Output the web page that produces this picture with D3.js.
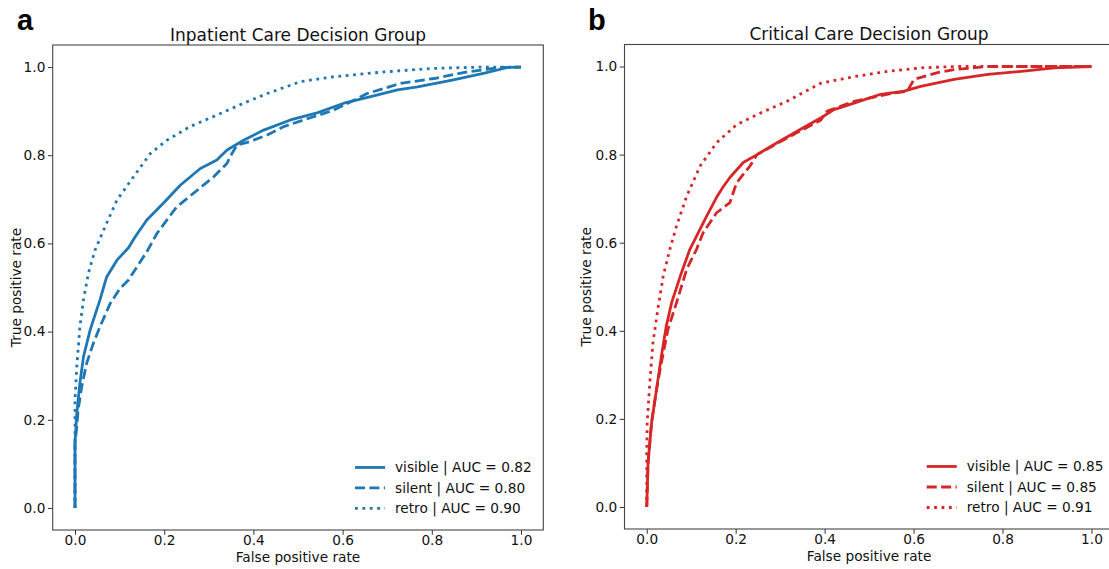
<!DOCTYPE html>
<html>
<head>
<meta charset="utf-8">
<script src="https://cdn.jsdelivr.net/npm/d3@7"></script>
<style>
  html, body { margin: 0; padding: 0; background: #fff; }
  svg { display: block; font-family: "DejaVu Sans", sans-serif; }
</style>
</head>
<body>
<svg id="chart" width="1109" height="569"></svg>
<script>
// ---------------- DATA ----------------
const tickValues = [0.0, 0.2, 0.4, 0.6, 0.8, 1.0];
const seriesNames = ["visible", "silent", "retro"];
const panelTitles = ["Inpatient Care Decision Group", "Critical Care Decision Group"];
const panelLetters = ["a", "b"];
const inpatientAUC = [0.82, 0.80, 0.90];
const criticalAUC = [0.85, 0.85, 0.91];

// Inpatient Care Decision Group
const inpVisibleFpr = [0, 0, 0.004, 0.011, 0.019, 0.034, 0.056, 0.071, 0.094, 0.12, 0.135, 0.161, 0.198, 0.236, 0.281, 0.318, 0.341, 0.378, 0.423, 0.483, 0.543, 0.603, 0.663, 0.723, 0.768, 0.843, 0.918, 0.97, 1.0];
const inpVisibleTpr = [0, 0.147, 0.215, 0.283, 0.343, 0.404, 0.472, 0.524, 0.562, 0.59, 0.615, 0.653, 0.691, 0.732, 0.77, 0.789, 0.812, 0.834, 0.857, 0.88, 0.896, 0.918, 0.933, 0.948, 0.955, 0.97, 0.986, 0.999, 1.0];
const inpSilentFpr = [0, 0, 0.004, 0.007, 0.015, 0.026, 0.041, 0.056, 0.079, 0.101, 0.12, 0.139, 0.161, 0.184, 0.228, 0.266, 0.311, 0.341, 0.352, 0.363, 0.393, 0.431, 0.468, 0.513, 0.58, 0.655, 0.73, 0.805, 0.88, 0.955, 1.0];
const inpSilentTpr = [0, 0.147, 0.184, 0.222, 0.275, 0.328, 0.373, 0.411, 0.464, 0.498, 0.517, 0.547, 0.581, 0.623, 0.683, 0.714, 0.751, 0.782, 0.804, 0.823, 0.831, 0.846, 0.865, 0.88, 0.902, 0.94, 0.963, 0.974, 0.989, 0.999, 1.0];
const inpRetroFpr = [0, 0, 0.004, 0.011, 0.019, 0.03, 0.045, 0.064, 0.094, 0.131, 0.169, 0.206, 0.258, 0.318, 0.378, 0.431, 0.506, 0.58, 0.693, 0.805, 0.918, 1.0];
const inpRetroTpr = [0, 0.245, 0.32, 0.411, 0.472, 0.532, 0.585, 0.63, 0.698, 0.751, 0.804, 0.834, 0.865, 0.891, 0.918, 0.94, 0.967, 0.978, 0.989, 0.997, 1.0, 1.0];

// Critical Care Decision Group
const crtVisibleFpr = [0, 0.003, 0.011, 0.022, 0.033, 0.044, 0.056, 0.078, 0.097, 0.112, 0.135, 0.157, 0.172, 0.187, 0.217, 0.248, 0.293, 0.338, 0.391, 0.421, 0.466, 0.526, 0.579, 0.616, 0.691, 0.767, 0.842, 0.917, 1.0];
const crtVisibleTpr = [0, 0.101, 0.192, 0.267, 0.343, 0.411, 0.464, 0.532, 0.585, 0.615, 0.661, 0.703, 0.727, 0.748, 0.782, 0.8, 0.827, 0.853, 0.883, 0.902, 0.917, 0.937, 0.944, 0.955, 0.971, 0.982, 0.989, 0.997, 1.0];
const crtSilentFpr = [0, 0.003, 0.011, 0.022, 0.033, 0.048, 0.067, 0.09, 0.112, 0.127, 0.157, 0.187, 0.202, 0.232, 0.248, 0.293, 0.338, 0.391, 0.406, 0.466, 0.556, 0.586, 0.601, 0.654, 0.691, 0.767, 1.0];
const crtSilentTpr = [0, 0.101, 0.192, 0.267, 0.328, 0.404, 0.464, 0.54, 0.585, 0.623, 0.668, 0.691, 0.736, 0.774, 0.8, 0.825, 0.85, 0.878, 0.899, 0.921, 0.94, 0.944, 0.971, 0.986, 0.993, 1.0, 1.0];
const crtRetroFpr = [0, 0, 0.001, 0.007, 0.014, 0.026, 0.037, 0.052, 0.067, 0.09, 0.12, 0.157, 0.202, 0.255, 0.315, 0.391, 0.466, 0.541, 0.616, 0.691, 1.0];
const crtRetroTpr = [0, 0.116, 0.192, 0.283, 0.373, 0.456, 0.524, 0.585, 0.638, 0.706, 0.774, 0.827, 0.868, 0.894, 0.921, 0.962, 0.977, 0.989, 0.997, 1.0, 1.0];

// ---------------- LAYOUT / STYLE ----------------
const lw = 2.8;
const dashes = [null, "10,4.4", "2.8,4.6"];
const panels = [
  { x0: 52.7, x1: 543.3, y0: 45, y1: 530, color: "#1f77b4", auc: inpatientAUC,
    fpr: [inpVisibleFpr, inpSilentFpr, inpRetroFpr], tpr: [inpVisibleTpr, inpSilentTpr, inpRetroTpr],
    letterX: 17, ylabX: 21 },
  { x0: 624.5, x1: 1113.7, y0: 44.5, y1: 529, color: "#d62728", auc: criticalAUC,
    fpr: [crtVisibleFpr, crtSilentFpr, crtRetroFpr], tpr: [crtVisibleTpr, crtSilentTpr, crtRetroTpr],
    letterX: 588, ylabX: 591 }
];

const svg = d3.select("#chart");
const fmt = d3.format(".1f");

panels.forEach((p, pi) => {
  const x = d3.scaleLinear().domain([-0.05, 1.05]).range([p.x0, p.x1]);
  const y = d3.scaleLinear().domain([-0.05, 1.05]).range([p.y1, p.y0]);
  const g = svg.append("g");

  const clipId = "clip" + pi;
  svg.append("clipPath").attr("id", clipId).append("rect")
    .attr("x", p.x0).attr("y", p.y0).attr("width", p.x1 - p.x0).attr("height", p.y1 - p.y0);

  // curves
  const line = d3.line().x(d => x(d[0])).y(d => y(d[1]));
  seriesNames.forEach((s, si) => {
    const pts = p.fpr[si].map((f, i) => [f, p.tpr[si][i]]);
    const path = g.append("path").datum(pts)
      .attr("d", line)
      .attr("fill", "none")
      .attr("stroke", p.color)
      .attr("stroke-width", lw)
      .attr("stroke-linejoin", "round")
      .attr("stroke-linecap", "butt")
      .attr("clip-path", `url(#${clipId})`);
    if (dashes[si]) path.attr("stroke-dasharray", dashes[si]);
  });

  // axes
  const xAxis = d3.axisBottom(x).tickValues(tickValues).tickFormat(fmt).tickSize(4.8).tickPadding(0.8);
  const yAxis = d3.axisLeft(y).tickValues(tickValues).tickFormat(fmt).tickSize(4.8).tickPadding(2.5);
  const gx = g.append("g").attr("transform", `translate(0,${p.y1})`).call(xAxis);
  const gy = g.append("g").attr("transform", `translate(${p.x0},0)`).call(yAxis);
  [gx, gy].forEach(a => {
    a.select(".domain").remove();
    a.selectAll("line").attr("stroke", "#333").attr("stroke-width", 1);
    a.selectAll("text").attr("font-size", 13.7).attr("fill", "#111")
      .attr("font-family", "DejaVu Sans");
  });

  // frame
  g.append("rect").attr("x", p.x0).attr("y", p.y0)
    .attr("width", p.x1 - p.x0).attr("height", p.y1 - p.y0)
    .attr("fill", "none").attr("stroke", "#444").attr("stroke-width", 1.1);

  // title
  g.append("text").attr("x", (p.x0 + p.x1) / 2).attr("y", p.y0 - 4.5)
    .attr("text-anchor", "middle").attr("font-size", 17).attr("fill", "#111")
    .text(panelTitles[pi]);

  // panel letter
  g.append("text").attr("x", p.letterX).attr("y", 30)
    .attr("font-family", "Liberation Sans, Arial, sans-serif").attr("font-weight", "bold")
    .attr("font-size", 29).attr("fill", "#000").text(panelLetters[pi]);

  // axis labels
  g.append("text").attr("x", (x(0) + x(1)) / 2).attr("y", p.y1 + 32)
    .attr("text-anchor", "middle").attr("font-size", 13.7).attr("fill", "#111")
    .text("False positive rate");
  g.append("text")
    .attr("transform", `translate(${p.ylabX},${(p.y0 + p.y1) / 2}) rotate(-90)`)
    .attr("text-anchor", "middle").attr("font-size", 13.7).attr("fill", "#111")
    .text("True positive rate");

  // legend (lower right)
  const hx0 = x(0) + 280;
  seriesNames.forEach((s, si) => {
    const ly = y(0) - 40.5 + si * 20.5;
    const l = g.append("line").attr("x1", hx0).attr("x2", hx0 + 30)
      .attr("y1", ly).attr("y2", ly)
      .attr("stroke", p.color).attr("stroke-width", lw);
    if (dashes[si]) l.attr("stroke-dasharray", dashes[si]);
    g.append("text").attr("x", hx0 + 40).attr("y", ly + 5)
      .attr("font-size", 13.7).attr("fill", "#111")
      .text(`${s} | AUC = ${p.auc[si].toFixed(2)}`);
  });
});
</script>
</body>
</html>
